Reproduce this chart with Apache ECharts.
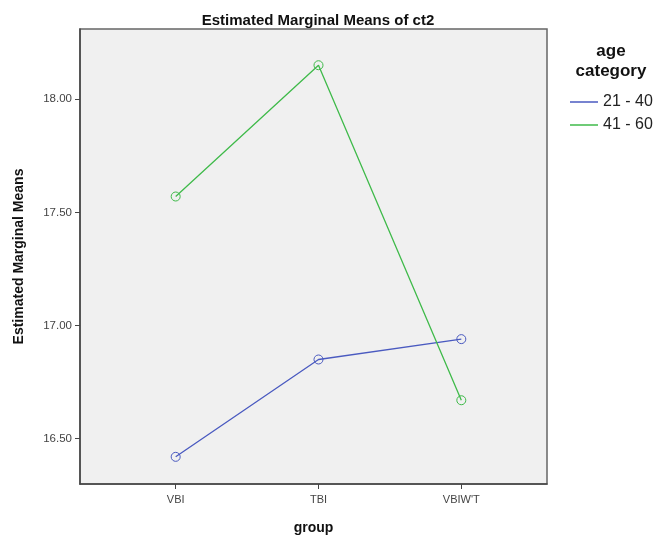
<!DOCTYPE html>
<html><head><meta charset="utf-8">
<script src="https://cdn.jsdelivr.net/npm/echarts@6/dist/echarts.min.js"></script>
<style>html,body{margin:0;padding:0;background:#fff}#c{width:657px;height:540px}</style>
</head><body><div id="c"></div>
<script>
var categories = ["VBI", "TBI", "VBIW'T"];
var seriesNames = ["21 - 40", "41 - 60"];
var values2140 = [16.42, 16.85, 16.94];
var values4160 = [17.57, 18.15, 16.67];
var yTicks = [16.5, 17.0, 17.5, 18.0];
var colors = ['#4a5ac0', '#3fba4a'];

function pts(arr){ return arr.map(function(v,i){ return [i+1, v]; }); }

var chart = echarts.init(document.getElementById('c'));
chart.setOption({
  animation: false,
  title: {
    text: 'Estimated Marginal Means of ct2',
    left: 313, top: 8, textAlign: 'center',
    textStyle: {fontFamily: 'Liberation Sans', fontSize: 15, fontWeight: 'bold', color: '#111'}
  },
  legend: {
    orient: 'vertical', left: 565, top: 89,
    itemWidth: 28, itemHeight: 1.5, itemGap: 7,
    icon: 'rect',
    textStyle: {fontFamily: 'Liberation Sans', fontSize: 16, color: '#222'},
    data: [
      {name: seriesNames[0], itemStyle: {color: colors[0], borderWidth: 0}},
      {name: seriesNames[1], itemStyle: {color: colors[1], borderWidth: 0}}
    ]
  },
  graphic: [{
    type: 'text', x: 611, y: 41,
    style: {text: 'age\ncategory', fontFamily: 'Liberation Sans', fontSize: 17, fontWeight: 'bold', fill: '#111', align: 'center', lineHeight: 20}
  }],
  grid: {left: 80, right: 110, top: 29, bottom: 56, show: true, backgroundColor: '#f0f0f0', borderColor: '#666', borderWidth: 1.5},
  xAxis: {
    type: 'value', min: 0.33, max: 3.6,
    name: 'group', nameLocation: 'middle', nameGap: 37,
    nameTextStyle: {fontFamily: 'Liberation Sans', fontSize: 14, fontWeight: 'bold', color: '#111'},
    axisLine: {show: true, lineStyle: {color: '#444', width: 1.5}},
    axisTick: {show: true, customValues: [1,2,3], length: 5, lineStyle: {color: '#444'}},
    axisLabel: {customValues: [1,2,3], formatter: function(v){ return categories[Math.round(v)-1]; }, fontFamily: 'Liberation Sans', fontSize: 11, color: '#444', margin: 10},
    splitLine: {show: false}
  },
  yAxis: {
    type: 'value', min: 16.30, max: 18.31,
    name: 'Estimated Marginal Means', nameLocation: 'middle', nameGap: 54, nameRotate: 90,
    nameTextStyle: {fontFamily: 'Liberation Sans', fontSize: 14, fontWeight: 'bold', color: '#111'},
    axisLine: {show: true, lineStyle: {color: '#444', width: 1.5}},
    axisTick: {show: true, customValues: yTicks, length: 5, lineStyle: {color: '#444'}},
    axisLabel: {customValues: yTicks, formatter: function(v){ return v.toFixed(2); }, fontFamily: 'Liberation Sans', fontSize: 11.5, color: '#444', margin: 8},
    splitLine: {show: false}
  },
  series: [
    {name: seriesNames[0], type: 'line', data: pts(values2140), symbol: 'circle', symbolSize: 9,
     itemStyle: {color: 'rgba(0,0,0,0)', borderColor: colors[0], borderWidth: 1}, lineStyle: {color: colors[0], width: 1.3}},
    {name: seriesNames[1], type: 'line', data: pts(values4160), symbol: 'circle', symbolSize: 9,
     itemStyle: {color: 'rgba(0,0,0,0)', borderColor: colors[1], borderWidth: 1}, lineStyle: {color: colors[1], width: 1.3}}
  ]
});
</script></body></html>
